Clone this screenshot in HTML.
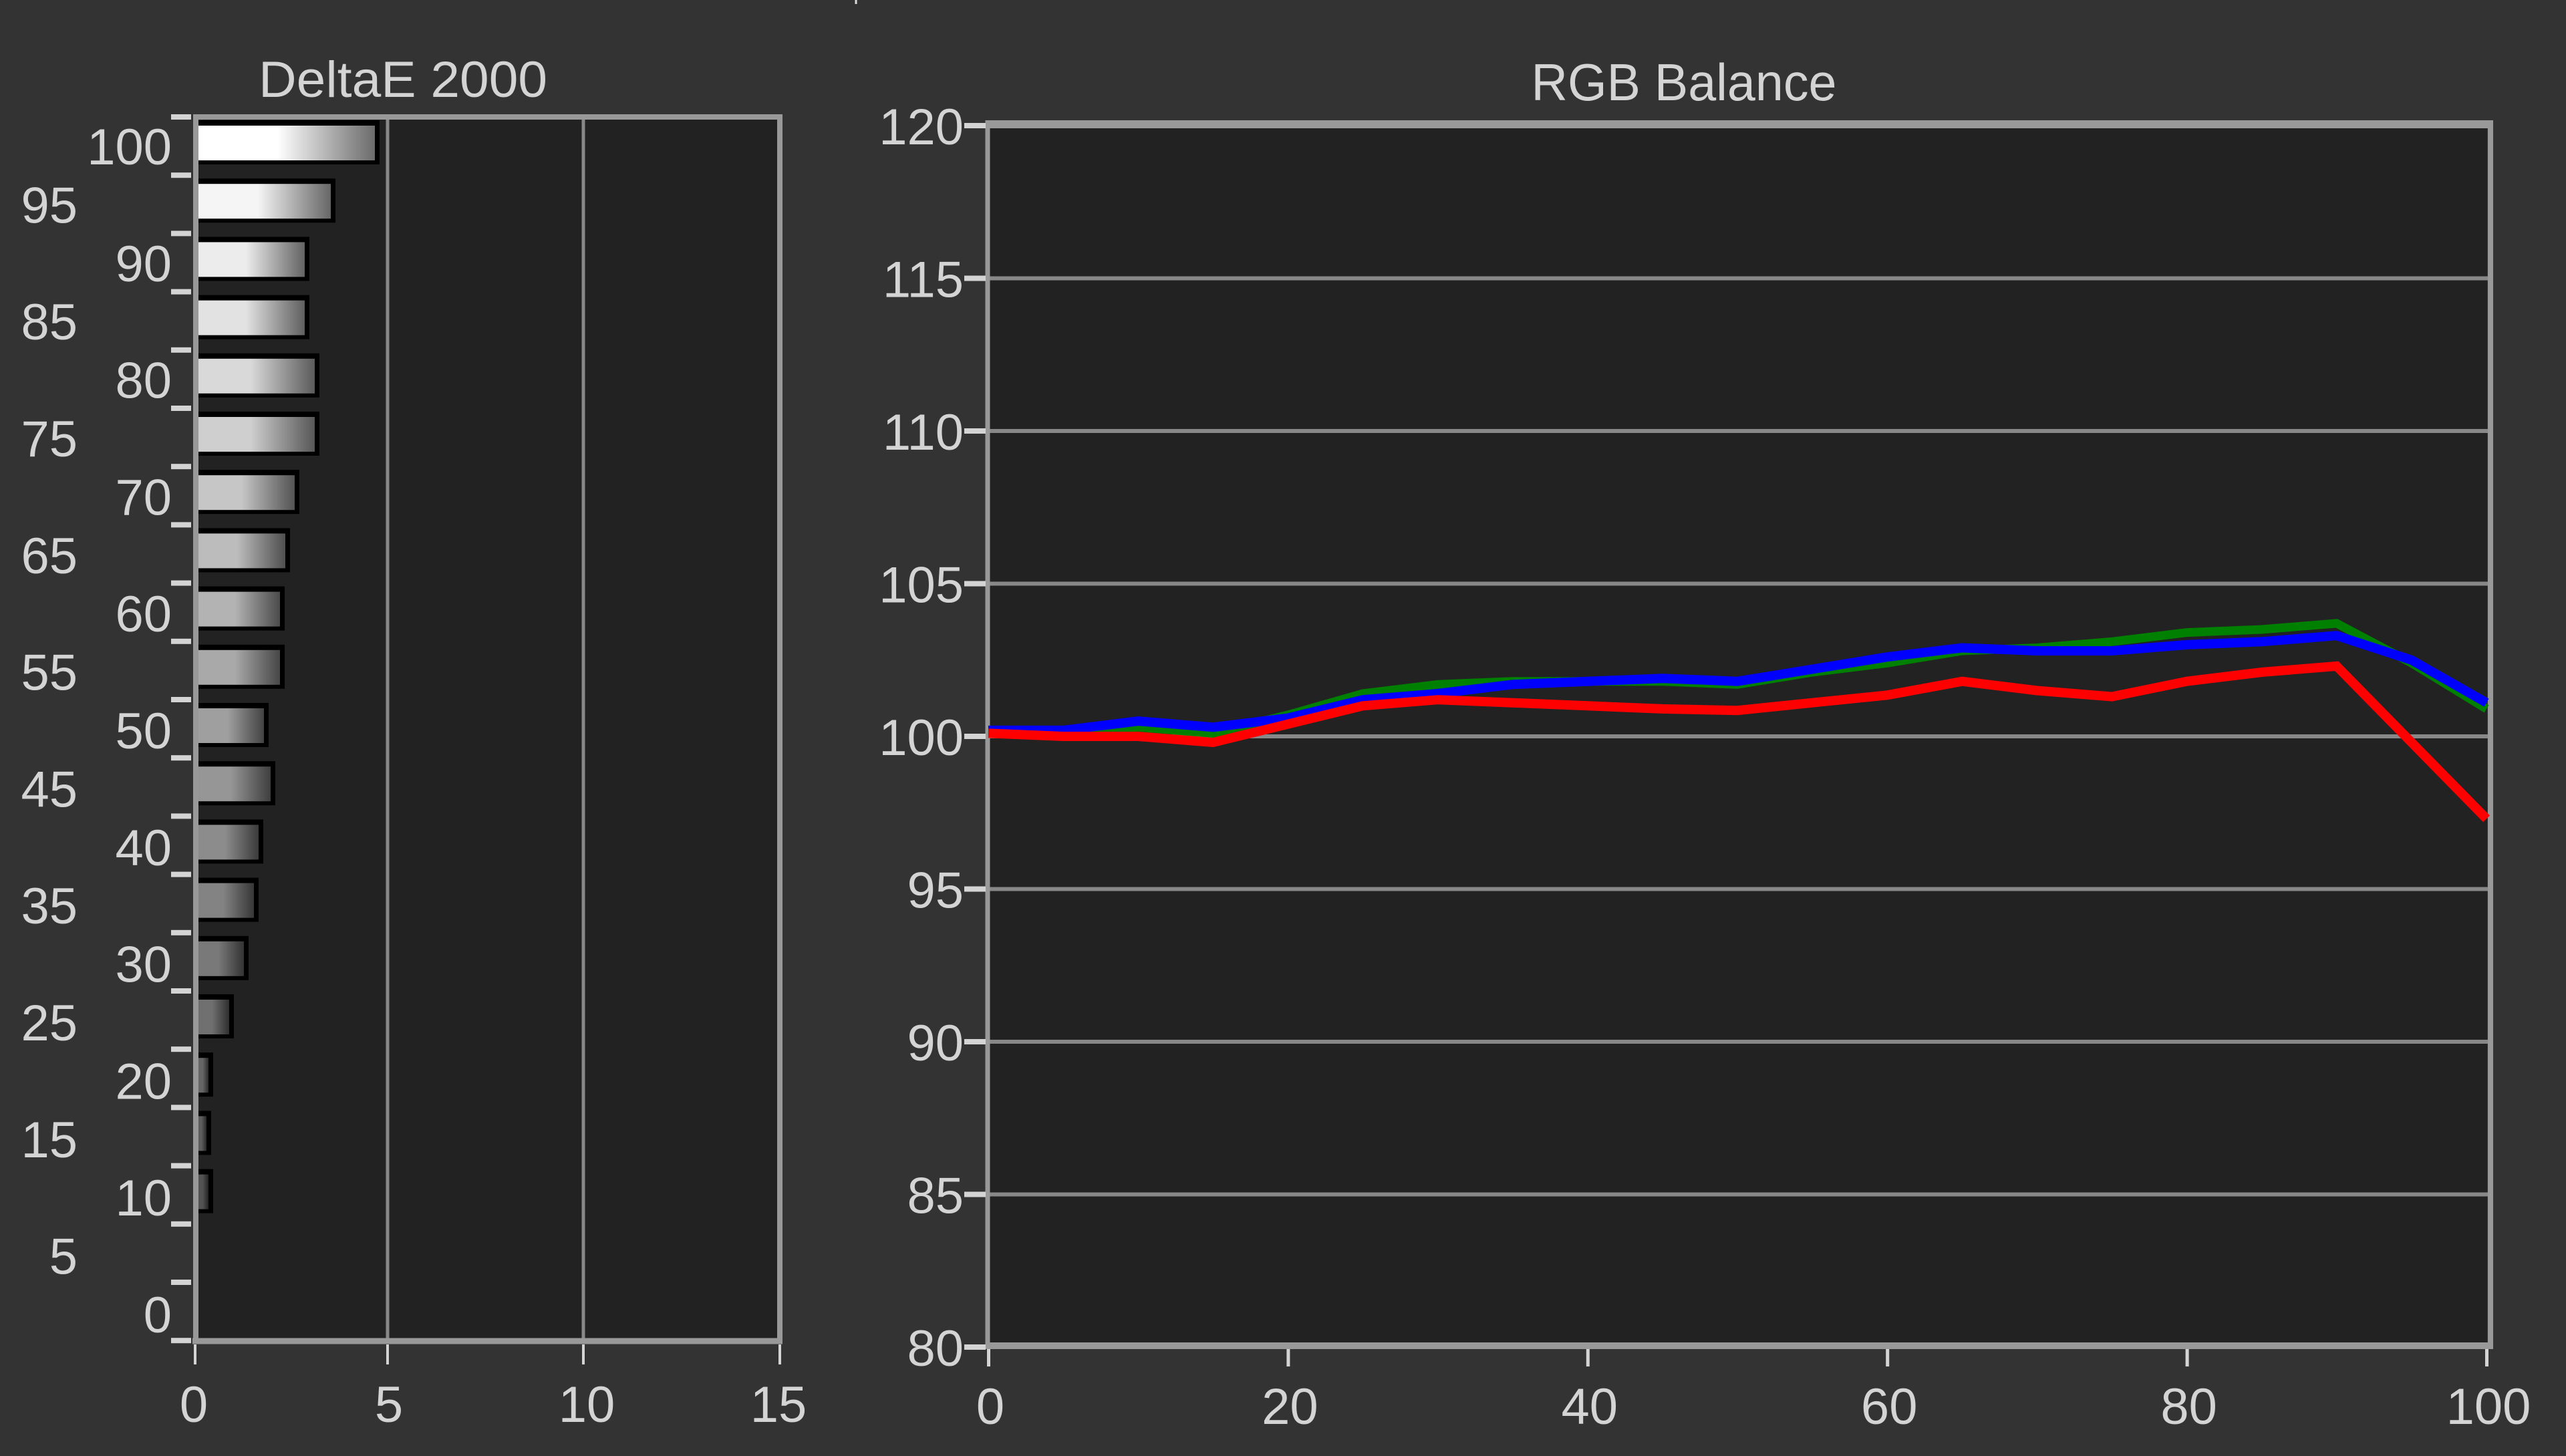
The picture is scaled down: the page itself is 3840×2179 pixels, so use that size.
<!DOCTYPE html>
<html><head><meta charset="utf-8"><style>
html,body{margin:0;padding:0;background:#333;}
svg{display:block;}
text{font-family:"Liberation Sans",sans-serif;fill:#d4d4d4;}
</style></head><body>
<svg xmlns="http://www.w3.org/2000/svg" width="3840" height="2179" viewBox="0 0 3840 2179">
<rect width="3840" height="2179" fill="#333"/>
<line x1="1281" y1="0" x2="1281" y2="6" stroke="#ddd" stroke-width="3"/>
<defs></defs>
<!-- LEFT PLOT -->
<rect x="292" y="175" width="875" height="1832" fill="#222"/>
<line x1="580" y1="175" x2="580" y2="2007" stroke="#888" stroke-width="5"/>
<line x1="873" y1="175" x2="873" y2="2007" stroke="#888" stroke-width="5"/>
<g id="bars"></g>
<line x1="292" y1="175" x2="1171" y2="175" stroke="#999" stroke-width="8"/>
<line x1="1167" y1="171" x2="1167" y2="2011" stroke="#999" stroke-width="8"/>
<line x1="288" y1="2007" x2="1171" y2="2007" stroke="#999" stroke-width="9"/>
<line x1="293" y1="171" x2="293" y2="2011" stroke="#999" stroke-width="8"/>
<g id="lticks" fill="#d4d4d4"></g>
<g fill="#d4d4d4">
<rect x="290" y="2012" width="4" height="30"/>
<rect x="578" y="2012" width="4" height="30"/>
<rect x="871" y="2012" width="4" height="30"/>
<rect x="1165" y="2012" width="4" height="30"/>
</g>
<g font-size="76" text-anchor="middle">
<text x="290" y="2128">0</text>
<text x="582" y="2128">5</text>
<text x="878" y="2128">10</text>
<text x="1165" y="2128">15</text>
</g>
<text x="603" y="145" font-size="76" text-anchor="middle" textLength="432" lengthAdjust="spacingAndGlyphs">DeltaE 2000</text>
<g id="llabels" font-size="76" text-anchor="end"></g>

<!-- RIGHT PLOT -->
<rect x="1479" y="186" width="2243" height="1830" fill="#222"/>
<g stroke="#888" stroke-width="6" id="hgrid"></g>
<line x1="1475" y1="186" x2="3731" y2="186" stroke="#999" stroke-width="12"/>
<line x1="1475" y1="2014" x2="3731" y2="2014" stroke="#999" stroke-width="10"/>
<line x1="3727" y1="180" x2="3727" y2="2019" stroke="#999" stroke-width="8"/>
<line x1="1478" y1="180" x2="1478" y2="2019" stroke="#999" stroke-width="7"/>
<g id="rticks" fill="#d4d4d4"></g>
<g id="rlabels" font-size="76"></g>
<text x="2520" y="150" font-size="78" text-anchor="middle" textLength="457" lengthAdjust="spacingAndGlyphs">RGB Balance</text>
<g id="lines" fill="none" stroke-linejoin="miter" stroke-linecap="butt"></g>
</svg>
<script>
var NS="http://www.w3.org/2000/svg";
function el(t,a,p,txt){var e=document.createElementNS(NS,t);for(var k in a)e.setAttribute(k,a[k]);if(txt!==undefined)e.textContent=txt;document.getElementById(p).appendChild(e);return e;}
var ends=[568,502,463,463,478,478,448,434,426,426,402,412,394,387,372,350,319,316,319];
var defs=document.querySelector("defs");
for(var i=0;i<19;i++){
  var L=100-5*i, cy=213+i*87.2;
  var c=Math.round(255*(0.25+0.75*L/100)), d=Math.round(c*0.42);
  var g=document.createElementNS(NS,"linearGradient");g.setAttribute("id","g"+i);
  g.innerHTML='<stop offset="0" stop-color="rgb('+c+','+c+','+c+')"/><stop offset="0.45" stop-color="rgb('+c+','+c+','+c+')"/><stop offset="1" stop-color="rgb('+d+','+d+','+d+')"/>';
  defs.appendChild(g);
  var e=ends[i];
  el("rect",{x:296,y:cy-33,width:e-296,height:66,fill:"#000"},"bars");
  el("rect",{x:296,y:cy-25,width:Math.max(e-303,4),height:52,fill:"url(#g"+i+")"},"bars");
}
for(var k=0;k<22;k++){ el("rect",{x:256,y:175+k*87.2-4,width:30,height:8},"lticks"); }
for(var k=0;k<=20;k++){
  var v=100-5*k, y=219+k*87.4+27;
  var x=(k%2==0)?257:116;
  el("text",{x:x,y:y},"llabels",String(v));
}
function Y(v){return 1102-(v-100)*45.7;}
function X(v){return 1479+v*22.42;}
for(var v=85;v<=115;v+=5){ el("line",{x1:1479,y1:Y(v),x2:3724,y2:Y(v)},"hgrid"); }
for(var v=80;v<=120;v+=5){
  el("rect",{x:1443,y:Y(v)-4,width:32,height:8},"rticks");
  el("text",{x:1442,y:Y(v)+28,"text-anchor":"end"},"rlabels",String(v));
}
for(var v=0;v<=100;v+=20){
  el("rect",{x:X(v)-2,y:2019,width:5,height:26},"rticks");
  el("text",{x:X(v)+3,y:2131,"text-anchor":"middle"},"rlabels",String(v));
}
var G=[100.2,100.1,100.3,100.1,100.7,101.4,101.7,101.8,101.8,101.8,101.7,102.1,102.4,102.8,102.9,103.1,103.4,103.5,103.7,102.4,100.9];
var B=[100.2,100.2,100.5,100.3,100.6,101.2,101.4,101.7,101.8,101.9,101.8,102.2,102.6,102.9,102.8,102.8,103.0,103.1,103.3,102.5,101.1];
var R=[100.1,100.0,100.0,99.8,100.4,101.0,101.2,101.1,101.0,100.9,100.85,101.1,101.35,101.8,101.5,101.3,101.8,102.1,102.3,99.8,97.3];
function pts(a){return a.map(function(v,i){return X(i*5).toFixed(1)+","+Y(v).toFixed(1);}).join(" ");}
el("polyline",{points:pts(G),stroke:"#008000","stroke-width":13},"lines");
el("polyline",{points:pts(B),stroke:"#0000ff","stroke-width":14},"lines");
el("polyline",{points:pts(R),stroke:"#ff0000","stroke-width":14},"lines");
</script>
</body></html>
